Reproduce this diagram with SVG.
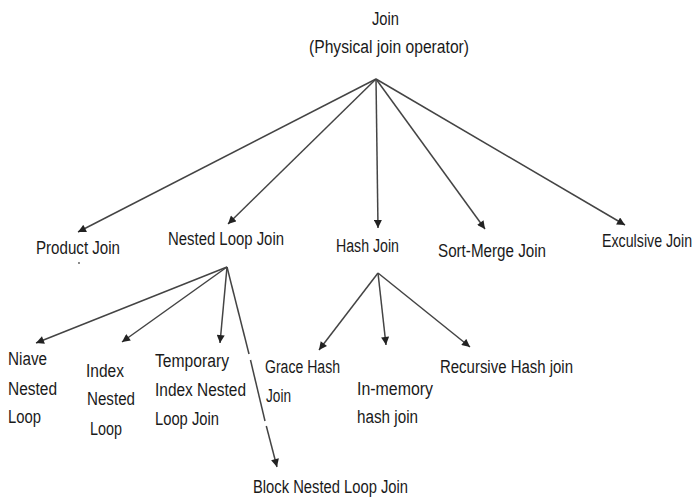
<svg xmlns="http://www.w3.org/2000/svg" width="698" height="499" viewBox="0 0 698 499">
<defs>
<marker id="ah" viewBox="0 0 10 10" refX="10" refY="5" markerWidth="9" markerHeight="8" markerUnits="userSpaceOnUse" orient="auto">
<path d="M0,0 L10,5 L0,10 Z" fill="#222"/>
</marker>
</defs>
<style>
text{font-family:"Liberation Sans",Arial,sans-serif;font-size:18px;fill:#1a1a1a}
.c line{stroke:#444;stroke-width:1.5}
.a{marker-end:url(#ah)}
</style>
<rect width="698" height="499" fill="#fff"/>
<g class="c" id="connectors">
<line class="a" x1="376" y1="79" x2="78" y2="232"/>
<line class="a" x1="376" y1="79" x2="228" y2="224"/>
<line class="a" x1="376" y1="79" x2="378" y2="228"/>
<line class="a" x1="376" y1="79" x2="485" y2="229"/>
<line class="a" x1="376" y1="79" x2="625" y2="225"/>
<line class="a" x1="227" y1="267" x2="36" y2="343"/>
<line class="a" x1="227" y1="267" x2="122" y2="342"/>
<line class="a" x1="227" y1="267" x2="220" y2="343"/>
<line x1="227" y1="267" x2="249" y2="354"/>
<line x1="250.5" y1="360" x2="265" y2="421"/>
<line class="a" x1="266.3" y1="426" x2="277" y2="467"/>
<line class="a" x1="378" y1="273" x2="319" y2="350"/>
<line class="a" x1="378" y1="273" x2="386" y2="345"/>
<line class="a" x1="378" y1="273" x2="470" y2="347"/>
</g>
<circle cx="79" cy="263" r="0.9" fill="#555"/>
<g id="root"><text x="372" y="25" textLength="27" lengthAdjust="spacingAndGlyphs">Join</text><text x="309" y="53" textLength="160" lengthAdjust="spacingAndGlyphs">(Physical join operator)</text></g>
<g id="product"><text x="36" y="254" textLength="84" lengthAdjust="spacingAndGlyphs">Product Join</text></g>
<g id="nested"><text x="168" y="245" textLength="116" lengthAdjust="spacingAndGlyphs">Nested Loop Join</text></g>
<g id="hash"><text x="336" y="252" textLength="63" lengthAdjust="spacingAndGlyphs">Hash Join</text></g>
<g id="sortmerge"><text x="438" y="257" textLength="108" lengthAdjust="spacingAndGlyphs">Sort-Merge Join</text></g>
<g id="exclusive" transform="translate(602,247) scale(0.79,1)"><text x="0" y="0">Exculsive Join</text></g>
<g id="niave"><text x="8" y="365" textLength="39" lengthAdjust="spacingAndGlyphs">Niave</text><text x="8" y="395" textLength="49" lengthAdjust="spacingAndGlyphs">Nested</text><text x="8" y="423" textLength="33" lengthAdjust="spacingAndGlyphs">Loop</text></g>
<g id="index"><text x="86" y="377" textLength="38" lengthAdjust="spacingAndGlyphs">Index</text><text x="87" y="405" textLength="48" lengthAdjust="spacingAndGlyphs">Nested</text><text x="90" y="435" textLength="32" lengthAdjust="spacingAndGlyphs">Loop</text></g>
<g id="temporary"><text x="155" y="367" textLength="74" lengthAdjust="spacingAndGlyphs">Temporary</text><text x="155" y="396" textLength="91" lengthAdjust="spacingAndGlyphs">Index Nested</text><text x="155" y="425" textLength="64" lengthAdjust="spacingAndGlyphs">Loop Join</text></g>
<g id="block"><text x="253" y="493" textLength="155" lengthAdjust="spacingAndGlyphs">Block Nested Loop Join</text></g>
<g id="grace"><text x="265" y="373" textLength="75" lengthAdjust="spacingAndGlyphs">Grace Hash</text><text x="266" y="402" textLength="25" lengthAdjust="spacingAndGlyphs">Join</text></g>
<g id="inmemory"><text x="357" y="395" textLength="76" lengthAdjust="spacingAndGlyphs">In-memory</text><text x="357" y="423" textLength="61" lengthAdjust="spacingAndGlyphs">hash join</text></g>
<g id="recursive"><text x="440" y="373" textLength="133" lengthAdjust="spacingAndGlyphs">Recursive Hash join</text></g>
</svg>
